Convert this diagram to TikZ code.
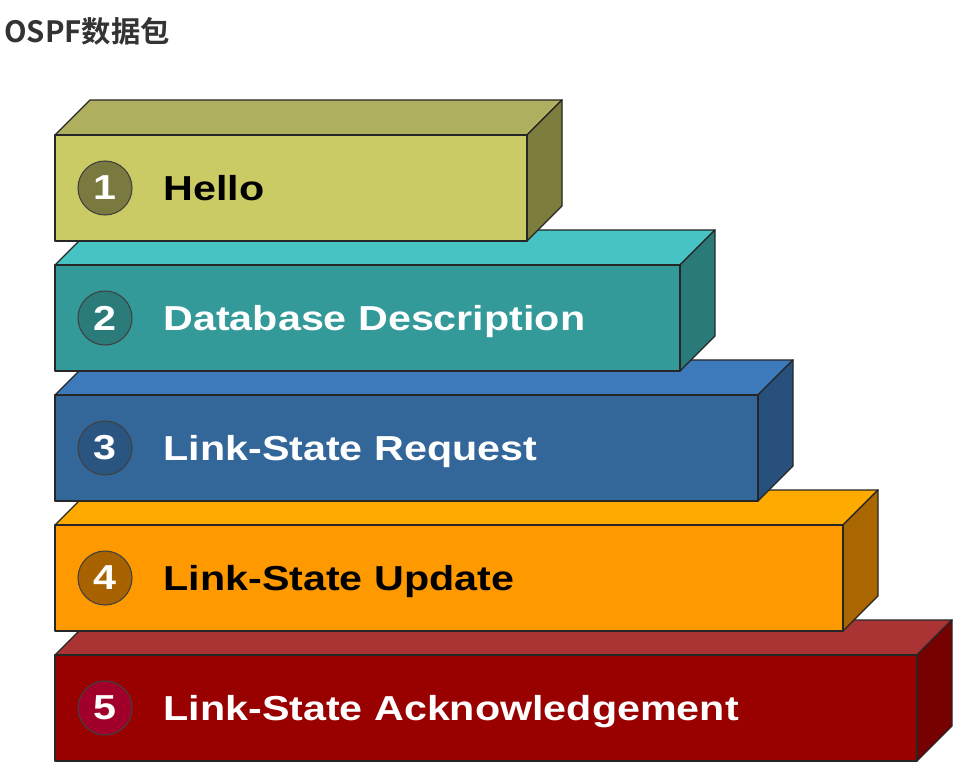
\documentclass[tikz,border=0pt]{standalone}
\usepackage{fontspec}
\setmainfont{Liberation Sans}
\newfontfamily\cjkfont{Noto Sans CJK SC Bold}
\newfontfamily\pktfont[FakeStretch=1.19]{Liberation Sans}
\usetikzlibrary{positioning}
% face colours: front, top, side, number disc
\definecolor{pk1front}{HTML}{CBCB66}\definecolor{pk1top}{HTML}{AFAF60}
\definecolor{pk1side}{HTML}{7D7D3E}\definecolor{pk1dot}{HTML}{7A7A40}
\definecolor{pk2front}{HTML}{339999}\definecolor{pk2top}{HTML}{47C3C3}
\definecolor{pk2side}{HTML}{2A7A7A}\definecolor{pk2dot}{HTML}{2B7B7B}
\definecolor{pk3front}{HTML}{336699}\definecolor{pk3top}{HTML}{3C7ABB}
\definecolor{pk3side}{HTML}{28507D}\definecolor{pk3dot}{HTML}{2A5580}
\definecolor{pk4front}{HTML}{FF9900}\definecolor{pk4top}{HTML}{FFAA00}
\definecolor{pk4side}{HTML}{AA6600}\definecolor{pk4dot}{HTML}{A86200}
\definecolor{pk5front}{HTML}{990000}\definecolor{pk5top}{HTML}{AA3333}
\definecolor{pk5side}{HTML}{770000}\definecolor{pk5dot}{HTML}{A0002A}
\definecolor{titlegray}{HTML}{333333}
\newcommand{\pL}{55}   % left edge of every front face
\newcommand{\pH}{106}  % front face height
\newcommand{\pD}{35}   % depth offset
\tikzset{
  face/.style={draw=black!85, line width=1pt, line join=round},
  pkcirc/.style={circle, draw=black!75, line width=0.8pt, minimum size=40.5pt,
    inner sep=0pt, text=white, font=\pktfont\bfseries\fontsize{26}{28}\selectfont},
  pklab/.style={inner sep=0pt, anchor=west, text height=18.5pt, text depth=0pt,
    font=\pktfont\bfseries\fontsize{26}{30}\selectfont},
}
% #1 index, #2 top y of front face, #3 right x of front face, #4 text colour, #5 label
\newcommand{\pkt}[5]{%
  \draw[face, fill=pk#1top] (\pL,#2) -- ({\pL+\pD},{#2-\pD}) -- ({#3+\pD},{#2-\pD})
    -- (#3,#2) -- cycle;
  \draw[face, fill=pk#1side] (#3,#2) -- ({#3+\pD},{#2-\pD}) -- ({#3+\pD},{#2+\pH-\pD})
    -- (#3,{#2+\pH}) -- cycle;
  \draw[face, fill=pk#1front] (\pL,#2) rectangle (#3,{#2+\pH});
  \node[pkcirc, fill=pk#1dot] (n#1) at (105,{#2+53}) {#1};
  \node[pklab, text=#4, right=23pt of n#1] (l#1) {#5};}

\begin{document}
\begin{tikzpicture}[x=0.75pt, y=-0.75pt]
\useasboundingbox (0,0) rectangle (957,777);
% title
\node[anchor=base west, inner sep=0pt, text=titlegray,
  font=\cjkfont\fontsize{22}{26}\selectfont] (title) at (4,43) {OSPF数据包};
% packets, lowest first so each upper one sits on the next
\pkt{5}{655}{917}{white}{Link-State Acknowledgement}
\pkt{4}{525}{843}{black}{Link-State Update}
\pkt{3}{395}{758}{white}{Link-State Request}
\pkt{2}{265}{680}{white}{Database Description}
\pkt{1}{135}{527}{black}{Hello}
\end{tikzpicture}
\end{document}
